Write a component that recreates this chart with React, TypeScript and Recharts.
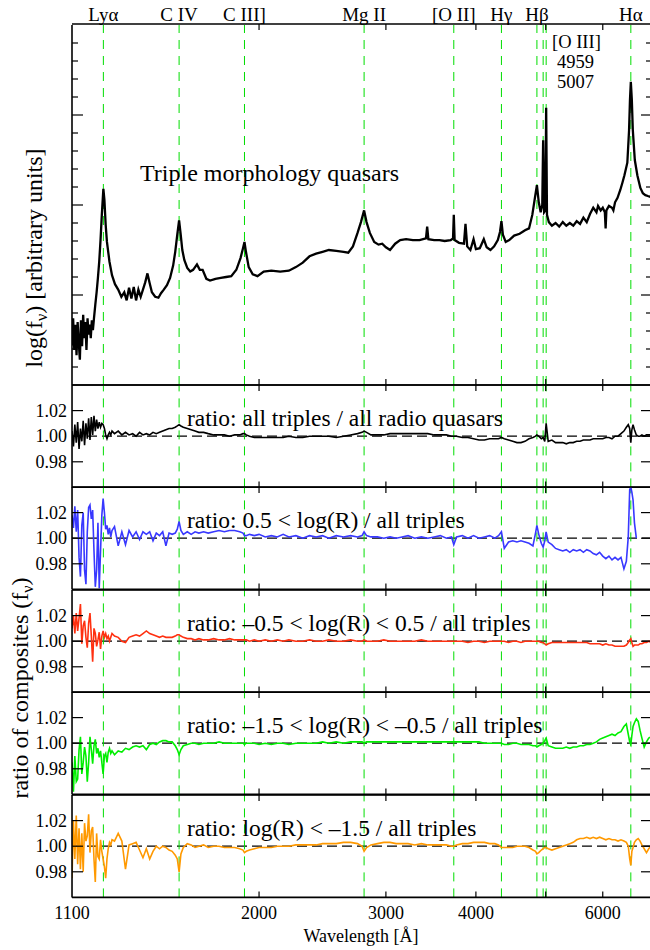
import React from 'react';
import { LineChart, Line, XAxis, YAxis, ReferenceLine } from 'recharts';

const FONT = '"Liberation Serif", "Times New Roman", Times, serif';

// emission lines marked with green dashes
const lineWaves = [1216, 1549, 1909, 2798, 3727, 4340, 4861, 4959, 5007, 6563];
const namedWaves = [1216, 1549, 1909, 2798, 3727, 4340, 4861, 6563];
const lineNames = ['Lyα', 'C IV', 'C III]', 'Mg II', '[O II]', 'Hγ', 'Hβ', 'Hα'];

const waveTicks = [2000, 3000, 4000, 5000, 6000];
const waveTicksLast = [1100, 2000, 3000, 4000, 5000, 6000];
const waveLabelTicks = [1100, 2000, 3000, 4000, 6000];
const fluxTicks = [0.2, 0.4, 0.6, 0.8, 1, 1.2, 1.4, 1.6, 1.8, 2, 2.2, 2.4, 2.6, 2.8, 3, 3.2, 3.4, 3.6, 3.8];
const ratioTicks = [0.98, 1.0, 1.02];

// composite spectrum of triple-morphology quasars (log f_nu, arbitrary units)
const compositeWave = [
  1100, 1104, 1108, 1112, 1116, 1120, 1124, 1128, 1132, 1136, 1140, 1144, 1148, 1152, 1156, 1160, 1164, 1168, 1172, 1176,
  1180, 1185, 1190, 1195, 1200, 1205, 1210, 1216, 1220, 1225, 1230, 1240, 1250, 1262, 1275, 1288, 1300, 1310, 1320, 1330,
  1340, 1350, 1360, 1370, 1380, 1390, 1400, 1410, 1420, 1435, 1450, 1462, 1475, 1490, 1505, 1520, 1530, 1540, 1549, 1557,
  1565, 1575, 1590, 1605, 1620, 1640, 1655, 1670, 1690, 1710, 1740, 1770, 1800, 1830, 1860, 1885, 1900, 1909, 1918, 1935,
  1960, 1990, 2030, 2080, 2140, 2200, 2250, 2300, 2350, 2400, 2450, 2500, 2560, 2620, 2660, 2700, 2740, 2770, 2798, 2820,
  2850, 2890, 2930, 2965, 3000, 3040, 3090, 3140, 3200, 3270, 3340, 3410, 3423, 3436, 3500, 3560, 3620, 3690, 3718, 3727,
  3737, 3790, 3850, 3869, 3890, 3930, 3970, 4000, 4050, 4102, 4140, 4190, 4240, 4290, 4320, 4340, 4360, 4400, 4450, 4520,
  4600, 4680, 4740, 4790, 4830, 4861, 4890, 4920, 4945, 4959, 4975, 4995, 5007, 5020, 5050, 5100, 5160, 5220, 5280, 5340,
  5400, 5460, 5520, 5580, 5640, 5700, 5760, 5820, 5880, 5910, 5960, 6000, 6040, 6055, 6070, 6120, 6180, 6207, 6240, 6290,
  6347, 6390, 6430, 6490, 6526, 6545, 6563, 6584, 6605, 6647, 6701, 6766, 6820, 6875, 6930, 6990,
];
const compositeFlux = [
  0.44, 0.74, 0.39, 0.67, 0.33, 0.70, 0.47, 0.28, 0.72, 0.43, 0.78, 0.52, 0.70, 0.39, 0.74, 0.56, 0.67, 0.52, 0.72, 0.61,
  0.74, 0.89, 1.03, 1.19, 1.37, 1.61, 1.89, 2.18, 2.06, 1.78, 1.59, 1.37, 1.22, 1.12, 1.06, 0.98, 1.03, 0.94, 1.08, 0.96,
  1.09, 0.94, 1.06, 0.98, 1.06, 1.14, 1.24, 1.13, 1.03, 0.98, 0.97, 1.02, 1.06, 1.11, 1.19, 1.33, 1.48, 1.67, 1.83, 1.67,
  1.50, 1.39, 1.30, 1.26, 1.28, 1.34, 1.28, 1.28, 1.18, 1.16, 1.18, 1.19, 1.20, 1.21, 1.28, 1.41, 1.52, 1.59, 1.48, 1.31,
  1.23, 1.21, 1.26, 1.27, 1.26, 1.27, 1.31, 1.36, 1.43, 1.46, 1.48, 1.50, 1.49, 1.48, 1.47, 1.54, 1.69, 1.81, 1.94, 1.81,
  1.69, 1.59, 1.56, 1.57, 1.53, 1.50, 1.57, 1.61, 1.62, 1.61, 1.61, 1.63, 1.76, 1.62, 1.61, 1.61, 1.60, 1.61, 1.63, 1.89,
  1.61, 1.58, 1.57, 1.79, 1.54, 1.50, 1.62, 1.51, 1.52, 1.62, 1.53, 1.50, 1.54, 1.61, 1.70, 1.82, 1.67, 1.59, 1.61, 1.66,
  1.68, 1.72, 1.74, 1.89, 2.08, 2.22, 2.03, 1.92, 2.00, 2.72, 1.92, 1.94, 3.08, 1.89, 1.81, 1.77, 1.80, 1.76, 1.81, 1.77,
  1.80, 1.77, 1.82, 1.79, 1.86, 1.81, 1.90, 1.97, 1.92, 1.99, 1.94, 1.97, 1.92, 1.74, 1.94, 1.99, 1.97, 1.94, 2.03, 2.08,
  2.17, 2.25, 2.33, 2.47, 2.83, 3.17, 3.37, 3.17, 2.83, 2.50, 2.33, 2.19, 2.13, 2.11, 2.10, 2.09,
];

// shared wavelength grid of the five ratio spectra
const ratioWave = [
  1100, 1105, 1110, 1115, 1120, 1125, 1130, 1135, 1140, 1145, 1150, 1155, 1160, 1165, 1170, 1175, 1180, 1185, 1190, 1195,
  1200, 1205, 1210, 1215, 1220, 1225, 1230, 1235, 1240, 1245, 1250,
  1260, 1275, 1290, 1305, 1320, 1335, 1350, 1365, 1380, 1395, 1410, 1425, 1440, 1455, 1470, 1485, 1500, 1515, 1530, 1540,
  1549, 1558, 1570, 1590, 1610, 1630, 1650, 1675, 1700, 1730, 1760, 1790, 1820, 1850, 1880, 1900, 1909, 1920, 1940, 1970,
  2000, 2040, 2080, 2120, 2160, 2200, 2250, 2300, 2350, 2400, 2450, 2500, 2560, 2620, 2680, 2740, 2780, 2798, 2820, 2860,
  2920, 2980,
  3040, 3100, 3160, 3220, 3290, 3360, 3430, 3500, 3570, 3640, 3700, 3727, 3760, 3830, 3900, 3970,
  4040, 4110, 4180, 4250, 4300, 4340, 4380, 4440, 4500, 4560, 4620, 4680, 4740, 4800, 4840, 4861, 4890, 4930, 4959, 4985,
  5007, 5040, 5100, 5160, 5220, 5280, 5340, 5400, 5460, 5520, 5580, 5640, 5700, 5760, 5820, 5880, 5940,
  6000, 6060, 6120, 6180, 6240, 6300, 6360, 6420, 6470, 6510, 6540, 6563, 6585, 6610, 6640, 6680, 6720, 6760, 6800, 6850,
  6900, 6950, 7000,
];

// all triples / all radio quasars
const ratioAll = [
  1.004, 0.992, 1.009, 0.995, 1.011, 0.990, 1.006, 0.996, 1.012, 0.993,
  1.010, 0.998, 1.014, 0.997, 1.015, 1.001, 1.016, 1.004, 1.013, 1.006,
  1.011, 1.007, 1.010, 1.009, 1.006, 1.001, 0.998, 1.001, 1.003, 1.001,
  1.004, 1.002, 1.004, 1.001, 1.003, 1.001, 1.002, 1.000, 1.003, 1.001,
  1.002, 1.001, 1.003, 1.002, 1.003, 1.004, 1.005, 1.006, 1.006, 1.007,
  1.008, 1.009, 1.008, 1.007, 1.006, 1.005, 1.004, 1.003, 1.003, 1.002,
  1.001, 1.001, 1.001, 1.000, 1.001, 1.001, 1.002, 1.002, 1.001, 1.000,
  0.999, 0.999, 0.999, 0.999, 0.999, 0.999, 1.000, 0.999, 0.999, 1.000,
  1.000, 1.000, 1.000, 0.999, 1.000, 1.001, 1.002, 1.003, 1.004, 1.003,
  1.001, 1.001, 1.001, 1.002, 1.002, 1.002, 1.002, 1.002, 1.002, 1.002,
  1.001, 1.001, 1.001, 1.000, 1.000, 1.000, 0.999, 0.999, 0.998, 0.997,
  0.997, 0.998, 0.998, 0.998, 0.999, 0.998, 0.997, 0.996, 0.995, 0.995,
  0.996, 0.998, 0.999, 1.000, 1.001, 1.000, 0.998, 0.999, 0.996, 1.010,
  0.996, 0.997, 0.995, 0.995, 0.995, 0.994, 0.995, 0.995, 0.996, 0.996,
  0.997, 0.997, 0.997, 0.998, 0.998, 0.998, 0.998, 0.999, 0.999, 0.998,
  1.000, 1.000, 1.002, 1.004, 1.007, 1.009, 1.006, 0.995, 1.005, 1.009,
  1.005, 1.001, 1.000, 1.000, 1.001, 1.000, 1.001, 1.001, 1.001,
];

// 0.5 < log(R) / all triples
const ratioHigh = [
  1.018, 1.008, 1.025, 1.005, 1.022, 0.985, 0.970, 1.010, 1.020, 0.975,
  0.964, 1.005, 1.024, 1.026, 1.015, 1.022, 0.990, 0.962, 0.975, 1.012,
  0.961, 0.990, 1.018, 1.031, 1.020, 1.007, 1.010, 1.003, 1.008, 1.001,
  1.006, 1.009, 0.994, 1.005, 0.995, 1.006, 1.001, 1.005, 0.999, 1.005,
  1.003, 1.005, 0.998, 1.004, 1.002, 1.005, 0.994, 1.004, 1.003, 1.004,
  1.007, 1.013, 1.006, 1.003, 1.005, 1.003, 1.005, 1.004, 1.005, 1.004,
  1.005, 1.006, 1.005, 1.006, 1.006, 1.005, 1.004, 1.002, 1.002, 1.003,
  1.002, 1.003, 1.001, 1.002, 1.001, 1.003, 1.001, 1.002, 1.000, 1.002,
  1.001, 1.002, 1.000, 1.002, 1.001, 1.002, 1.001, 1.002, 1.005, 1.002,
  1.001, 1.001, 1.000, 1.001, 1.000, 1.001, 1.002, 1.000, 1.001, 1.000,
  1.001, 1.002, 1.000, 1.001, 0.995, 1.001, 1.002, 1.000, 1.002, 1.000,
  1.001, 1.002, 1.000, 1.002, 1.005, 0.992, 0.997, 0.998, 0.997, 0.998,
  0.997, 0.996, 0.994, 1.004, 1.010, 1.003, 0.996, 0.993, 0.998, 1.005,
  0.997, 0.995, 0.992, 0.991, 0.990, 0.991, 0.989, 0.991, 0.990, 0.991,
  0.989, 0.991, 0.990, 0.988, 0.987, 0.989, 0.986, 0.984, 0.986, 0.983,
  0.985, 0.983, 0.985, 0.976, 0.982, 1.001, 1.038, 1.040, 1.036, 1.030,
  1.012, 1.000, null, null, null, null, null, null, null,
];

// -0.5 < log(R) < 0.5 / all triples
const ratioMid = [
  1.010, 1.020, 1.006, 1.022, 1.008, 1.018, 1.029, 0.998, 1.012, 1.016,
  1.003, 0.995, 1.014, 1.022, 1.004, 0.984, 1.010, 1.006, 0.996, 1.001,
  1.007, 0.994, 1.004, 1.008, 1.003, 1.006, 1.002, 1.004, 1.000, 1.003,
  1.006, 1.004, 1.003, 1.000, 0.999, 1.003, 1.004, 1.005, 1.004, 1.006,
  1.008, 1.006, 1.005, 1.004, 1.003, 1.004, 1.003, 1.003, 1.003, 1.004,
  1.005, 1.005, 1.004, 1.003, 1.002, 1.002, 1.001, 1.002, 1.001, 1.001,
  1.002, 1.001, 1.001, 1.002, 1.001, 1.001, 1.001, 1.001, 1.001, 1.000,
  1.001, 1.000, 1.001, 1.000, 1.001, 1.000, 1.001, 1.000, 1.000, 1.001,
  1.000, 1.000, 1.001, 1.000, 1.000, 1.001, 1.000, 1.000, 1.001, 1.000,
  1.000, 1.000, 1.001, 1.000, 1.000, 1.000, 1.000, 1.000, 1.001, 1.000,
  1.000, 1.000, 1.000, 1.000, 1.000, 1.000, 1.000, 0.999, 1.000, 1.000,
  0.999, 1.000, 1.000, 1.000, 1.000, 1.000, 0.999, 1.000, 1.000, 0.999,
  1.000, 1.000, 1.000, 1.000, 1.000, 1.000, 0.999, 0.999, 0.998, 0.997,
  0.998, 0.999, 0.999, 0.999, 0.999, 0.999, 0.999, 0.999, 0.999, 0.999,
  0.999, 0.999, 0.998, 0.998, 0.998, 0.998, 0.997, 0.998, 0.997, 0.997,
  0.996, 0.996, 0.996, 0.996, 0.997, 0.999, 1.001, 1.002, 0.999, 0.996,
  0.997, 0.997, 0.997, 0.998, 0.998, 0.999, 0.999, 1.000, 0.999,
];

// -1.5 < log(R) < -0.5 / all triples
const ratioLow = [
  0.985, 0.962, 0.990, 0.970, 0.972, 0.995, 1.005, 0.976, 0.985, 0.997,
  0.990, 0.970, 0.985, 1.005, 0.995, 0.984, 0.998, 1.003, 0.992, 0.996,
  0.989, 0.994, 0.985, 0.976, 0.990, 0.992, 0.985, 0.993, 0.996, 0.992,
  0.994, 0.991, 0.994, 0.993, 0.996, 0.995, 0.997, 0.998, 0.997, 0.998,
  0.995, 0.999, 1.000, 0.999, 1.001, 1.002, 1.002, 1.001, 1.001, 0.998,
  0.995, 0.991, 0.995, 0.998, 0.999, 1.000, 1.000, 0.999, 1.000, 1.000,
  1.000, 1.001, 1.000, 1.000, 1.000, 1.000, 1.000, 0.999, 1.000, 1.000,
  1.000, 0.999, 1.000, 0.999, 1.000, 1.000, 0.999, 1.000, 1.000, 1.000,
  1.000, 1.001, 1.000, 1.001, 1.000, 1.001, 1.001, 1.001, 1.000, 1.001,
  1.001, 1.001, 1.001, 1.001, 1.001, 1.001, 1.001, 1.001, 1.001, 1.001,
  1.001, 1.001, 1.001, 1.001, 1.001, 1.001, 1.001, 1.001, 1.001, 1.001,
  1.000, 1.000, 1.000, 1.000, 1.000, 0.999, 0.999, 1.000, 1.000, 0.999,
  0.999, 0.999, 0.998, 0.998, 0.997, 0.998, 0.999, 1.000, 1.002, 1.004,
  0.998, 0.997, 0.996, 0.996, 0.996, 0.997, 0.996, 0.997, 0.997, 0.998,
  0.998, 0.999, 0.999, 1.000, 1.001, 1.003, 1.004, 1.005, 1.006, 1.007,
  1.006, 1.008, 1.009, 1.013, 1.015, 1.007, 1.001, 0.999, 1.006, 1.013,
  1.016, 1.019, 1.017, 1.010, 1.004, 0.997, 1.001, 1.004, 1.005,
];

// log(R) < -1.5 / all triples
const ratioFaint = [
  0.975, 1.020, 0.990, 1.024, 0.986, 1.014, 0.982, 1.010, 0.980, 1.018,
  1.004, 1.008, 1.025, 0.995, 1.012, 1.015, 0.990, 0.972, 1.010, 0.992,
  0.990, 1.005, 0.996, 0.990, 0.984, 0.975, 0.990, 0.998, 1.003, 1.001,
  1.005, 1.004, 1.010, 1.004, 0.982, 1.001, 1.002, 1.003, 0.997, 0.991,
  0.998, 0.990, 0.996, 1.000, 0.998, 1.000, 0.999, 0.997, 0.996, 0.993,
  0.990, 0.980, 0.994, 0.999, 1.002, 1.001, 0.999, 1.000, 1.001, 0.999,
  1.000, 1.000, 0.999, 0.999, 0.999, 0.998, 0.997, 0.995, 0.996, 0.997,
  0.998, 0.999, 0.999, 0.999, 1.000, 1.000, 1.000, 1.001, 1.001, 1.001,
  1.001, 1.002, 1.002, 1.002, 1.003, 1.003, 1.002, 1.000, 0.996, 0.999,
  1.001, 1.002, 1.003, 1.003, 1.002, 1.002, 1.002, 1.001, 1.002, 1.001,
  1.001, 1.001, 1.001, 1.000, 1.000, 1.001, 1.002, 1.002, 1.003, 1.003,
  1.003, 1.002, 1.002, 1.001, 0.999, 0.999, 0.999, 0.999, 1.000, 1.000,
  1.000, 0.999, 0.997, 0.996, 0.994, 0.995, 0.997, 0.998, 0.999, 0.999,
  0.998, 0.997, 0.998, 0.999, 1.000, 1.001, 1.002, 1.003, 1.005, 1.006,
  1.006, 1.007, 1.006, 1.007, 1.006, 1.007, 1.006, 1.005, 1.006, 1.005,
  1.005, 1.004, 1.005, 1.004, 1.003, 1.000, 0.990, 0.985, 0.996, 0.999,
  1.003, 1.005, 1.006, 1.004, 1.001, 0.998, 0.995, 0.998, 1.000,
];

const ratioSeries = [
  { values: ratioAll, color: '#000000', label: 'ratio: all triples / all radio quasars' },
  { values: ratioHigh, color: '#3838ff', label: 'ratio: 0.5 < log(R) / all triples' },
  { values: ratioMid, color: '#ff3010', label: 'ratio: –0.5 < log(R) < 0.5 / all triples' },
  { values: ratioLow, color: '#00ee00', label: 'ratio: –1.5 < log(R) < –0.5 / all triples' },
  { values: ratioFaint, color: '#ff9900', label: 'ratio: log(R) < –1.5 / all triples' },
];

const CHART_W = 652; // right axis strip (1px) sits just past the 650px page
const AXIS_W = 72;
const PLOT_TOP = 25;
const TOP_PLOT_H = 360;
const RATIO_H = 102.4;
const GREEN = '#00dd00';

const isInt = (v: number) => Math.abs(v - Math.round(v)) < 1e-6;

const leftTick = (labels: boolean) => (p: any) => {
  const v = p.payload.value;
  const len = labels || isInt(v) ? 11 : 6;
  return (
    <g>
      <line x1={p.x} y1={p.y} x2={p.x + len} y2={p.y} stroke="#000" strokeWidth={1.2} />
      {labels && (
        <text x={p.x - 5} y={p.y + 6} textAnchor="end" fontFamily={FONT} fontSize={18} fill="#000">
          {v.toFixed(2)}
        </text>
      )}
    </g>
  );
};

const rightTick = (labels: boolean) => (p: any) => {
  const v = p.payload.value;
  const len = labels || isInt(v) ? 10 : 5;
  return <line x1={p.x} y1={p.y} x2={p.x - len} y2={p.y} stroke="#000" strokeWidth={1.2} />;
};

const bottomTick = (labels: boolean) => (p: any) => {
  const v = p.payload.value;
  return (
    <g>
      {v !== 1100 && <line x1={p.x} y1={p.y} x2={p.x} y2={p.y - 6} stroke="#000" strokeWidth={1.2} />}
      {labels && waveLabelTicks.includes(v) && (
        <text x={p.x} y={p.y + 22} textAnchor="middle" fontFamily={FONT} fontSize={18} fill="#000">
          {v}
        </text>
      )}
    </g>
  );
};

const topTick = (p: any) => (
  <line x1={p.x} y1={p.y} x2={p.x} y2={p.y + 6} stroke="#000" strokeWidth={1.2} />
);

const nameTick = (p: any) => {
  const i = namedWaves.indexOf(p.payload.value);
  return (
    <text x={p.x} y={p.y - 4} textAnchor="middle" fontFamily={FONT} fontSize={19} fill="#000">
      {lineNames[i]}
    </text>
  );
};

interface PanelProps {
  plotTop: number;
  plotHeight: number;
  marginTop: number;
  marginBottom: number;
  rows: Array<{ w: number; v: number | null }>;
  color: string;
  strokeWidth: number;
  yDomain: [number, number];
  yTicks: number[];
  ratio: boolean;
  last?: boolean;
}

const Panel: React.FC<PanelProps> = ({
  plotTop, plotHeight, marginTop, marginBottom, rows, color, strokeWidth, yDomain, yTicks, ratio, last = false,
}) => {
  // axes get a 1px strip each (a zero-size axis is not drawn)
  const topAxes = ratio ? 1 : 2;
  const height = marginTop + topAxes + plotHeight + 1 + marginBottom;
  return (
    <div style={{ position: 'absolute', left: 0, top: plotTop - marginTop - topAxes }}>
      <LineChart
        width={CHART_W}
        height={height}
        data={rows}
        margin={{ top: marginTop, right: 0, bottom: marginBottom, left: 0 }}
      >
        <XAxis
          xAxisId="b"
          dataKey="w"
          type="number"
          scale="log"
          domain={[1100, 7000]}
          allowDataOverflow
          ticks={last ? waveTicksLast : waveTicks}
          interval={0}
          height={1}
          tickSize={0}
          tickMargin={0}
          tickLine={false}
          tick={bottomTick(last)}
          axisLine={{ stroke: '#000', strokeWidth: 1.6 }}
        />
        <XAxis
          xAxisId="t"
          orientation="top"
          dataKey="w"
          type="number"
          scale="log"
          domain={[1100, 7000]}
          allowDataOverflow
          ticks={waveTicks}
          interval={0}
          height={1}
          tickSize={0}
          tickMargin={0}
          tickLine={false}
          tick={topTick}
          axisLine={{ stroke: '#000', strokeWidth: 1.6 }}
        />
        {!ratio && (
          <XAxis
            xAxisId="names"
            orientation="top"
            dataKey="w"
            type="number"
            scale="log"
            domain={[1100, 7000]}
            allowDataOverflow
            ticks={namedWaves}
            interval={0}
            height={1}
            tickSize={0}
            tickMargin={0}
            tickLine={false}
            tick={nameTick}
            axisLine={false}
          />
        )}
        <YAxis
          yAxisId="l"
          type="number"
          domain={yDomain}
          allowDataOverflow
          ticks={yTicks}
          interval={0}
          width={AXIS_W}
          tickSize={0}
          tickMargin={0}
          tickLine={false}
          tick={leftTick(ratio)}
          axisLine={{ stroke: '#000', strokeWidth: 1.6 }}
        />
        <YAxis
          yAxisId="r"
          orientation="right"
          type="number"
          domain={yDomain}
          allowDataOverflow
          ticks={yTicks}
          interval={0}
          width={1}
          tickSize={0}
          tickMargin={0}
          tickLine={false}
          tick={rightTick(ratio)}
          axisLine={{ stroke: '#000', strokeWidth: 1.6 }}
        />
        {ratio && (
          <ReferenceLine xAxisId="b" yAxisId="l" y={1} stroke="#000" strokeWidth={1.2} strokeDasharray="10 5" />
        )}
        {lineWaves.map((w) => (
          <ReferenceLine key={w} xAxisId="b" yAxisId="l" x={w} stroke={GREEN} strokeWidth={1} strokeDasharray="9 7" />
        ))}
        <Line
          xAxisId="b"
          yAxisId="l"
          dataKey="v"
          type="linear"
          stroke={color}
          strokeWidth={strokeWidth}
          dot={false}
          activeDot={false}
          connectNulls={false}
          isAnimationActive={false}
        />
      </LineChart>
    </div>
  );
};

const compositeRows = compositeWave.map((w, i) => ({ w, v: compositeFlux[i] }));

export default function App() {
  return (
    <div
      style={{
        position: 'absolute',
        left: 0,
        top: 0,
        width: 650,
        height: 950,
        overflow: 'hidden',
        background: '#fff',
      }}
    >
      <Panel
        plotTop={PLOT_TOP}
        plotHeight={TOP_PLOT_H}
        marginTop={PLOT_TOP - 2}
        marginBottom={0}
        rows={compositeRows}
        color="#000"
        strokeWidth={2.3}
        yDomain={[0, 4]}
        yTicks={fluxTicks}
        ratio={false}
      />
      {ratioSeries.map((s, k) => (
        <Panel
          key={k}
          plotTop={PLOT_TOP + TOP_PLOT_H + k * RATIO_H}
          plotHeight={RATIO_H}
          marginTop={0}
          marginBottom={k === ratioSeries.length - 1 ? 52 : 0}
          rows={ratioWave.map((w, i) => ({ w, v: s.values[i] }))}
          color={s.color}
          strokeWidth={1.6}
          yDomain={[0.96, 1.04]}
          yTicks={ratioTicks}
          ratio
          last={k === ratioSeries.length - 1}
        />
      ))}
      <svg
        width={650}
        height={950}
        style={{ position: 'absolute', left: 0, top: 0, pointerEvents: 'none' }}
        fontFamily={FONT}
        fill="#000"
      >
        <text x={140} y={181} fontSize={24}>Triple morphology quasars</text>
        {ratioSeries.map((s, k) => (
          <text key={k} x={187} y={PLOT_TOP + TOP_PLOT_H + k * RATIO_H + 41} fontSize={23.5}>
            {s.label}
          </text>
        ))}
        <text x={552} y={48} fontSize={18.5}>[O III]</text>
        <text x={557} y={68} fontSize={18.5}>4959</text>
        <text x={557} y={88} fontSize={18.5}>5007</text>
        <text x={42} y={258} fontSize={24} textAnchor="middle" transform="rotate(-90 42 258)">
          log(f<tspan fontSize={16} dy={5}>ν</tspan><tspan dy={-5}>) [arbitrary units]</tspan>
        </text>
        <text x={28} y={688} fontSize={24} textAnchor="middle" transform="rotate(-90 28 688)">
          ratio of composites (f<tspan fontSize={16} dy={5}>ν</tspan><tspan dy={-5}>)</tspan>
        </text>
        <text x={361} y={942} fontSize={18} textAnchor="middle">Wavelength [Å]</text>
      </svg>
    </div>
  );
}
